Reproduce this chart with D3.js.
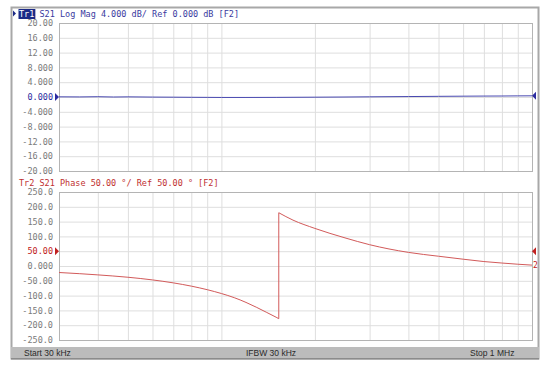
<!DOCTYPE html>
<html>
<head>
<meta charset="utf-8">
<script src="https://cdn.jsdelivr.net/npm/d3@7"></script>
<style>
  body { margin: 0; background: #fff; }
  svg { display: block; }
  .grid line { stroke: #dedede; stroke-width: 1; }
  .grid path { display: none; }
  .ylab text { font-family: "DejaVu Sans Mono", monospace; font-size: 8.5px; fill: #7a7a7a; }
  .hdr { font-family: "DejaVu Sans Mono", monospace; font-size: 8.5px; }
  .status { font-family: "Liberation Sans", Arial, sans-serif; font-size: 8.5px; fill: #2a2a2a; }
</style>
</head>
<body>
<div id="chart"></div>
<script>
// Data
const gridFreqs = [40e3, 50e3, 60e3, 70e3, 80e3, 90e3, 100e3, 200e3, 300e3, 400e3, 500e3, 600e3, 700e3, 800e3, 900e3];

const magTicks = [20, 16, 12, 8, 4, 0, -4, -8, -12, -16, -20];
const magTickLabels = ["20.00", "16.00", "12.00", "8.000", "4.000", "0.000", "-4.000", "-8.000", "-12.00", "-16.00", "-20.00"];
const phaseTicks = [250, 200, 150, 100, 50, 0, -50, -100, -150, -200, -250];
const phaseTickLabels = ["250.0", "200.0", "150.0", "100.0", "50.00", "0.000", "-50.00", "-100.0", "-150.0", "-200.0", "-250.0"];

const magFreqs = [30e3, 35e3, 40e3, 45e3, 50e3, 60e3, 70e3, 80e3, 90e3, 100e3, 120e3, 150e3, 200e3, 250e3, 300e3, 400e3, 500e3, 600e3, 700e3, 800e3, 900e3, 1e6];
const magValues = [0.05, 0.02, 0.08, 0.0, 0.04, -0.02, -0.05, -0.08, -0.1, -0.12, -0.12, -0.1, -0.05, 0.0, 0.05, 0.12, 0.18, 0.22, 0.25, 0.27, 0.3, 0.32];

// phase wraps at ~153 kHz (two points at the same frequency)
const phaseFreqs = [30e3, 35e3, 40e3, 50e3, 60e3, 70e3, 80e3, 90e3, 100e3, 110e3, 120e3, 130e3, 140e3, 150e3, 153e3, 153e3, 170e3, 200e3, 250e3, 300e3, 400e3, 500e3, 600e3, 700e3, 800e3, 900e3, 1e6];
const phaseValues = [-22, -26, -30, -38, -47, -57, -68, -80, -93, -107, -123, -140, -157, -173, -178, 180, 155, 127, 95, 72, 46, 33, 23, 15, 10, 6, 3];

const W = 550, H = 368;
const P1 = { left: 59, top: 23, right: 532, bottom: 171 };
const P2 = { left: 59, top: 192, right: 532, bottom: 340 };

const svg = d3.select("#chart").append("svg").attr("width", W).attr("height", H);

// outer frame
svg.append("rect").attr("x", 11.5).attr("y", 7.5).attr("width", 527).attr("height", 351)
  .attr("fill", "#fff").attr("stroke", "#a8a8a8").attr("stroke-width", 2);

const x = d3.scaleLog().domain([30e3, 1e6]).range([P1.left, P1.right]);

function drawPanel(P, ticks, labels, domain, refIdx, refColor) {
  const y = d3.scaleLinear().domain(domain).range([P.bottom, P.top]);
  const g = svg.append("g");
  const w = P.right - P.left, h = P.bottom - P.top;

  g.append("g").attr("class", "grid").attr("transform", `translate(0,${P.bottom})`)
    .call(d3.axisBottom(x).tickValues(gridFreqs).tickSize(-h).tickFormat(""));
  g.append("g").attr("class", "grid ylab").attr("transform", `translate(${P.left},0)`)
    .call(d3.axisLeft(y).tickValues(ticks).tickSize(-w).tickPadding(6).tickFormat((d, i) => labels[i]))
    .selectAll("text").style("fill", (d, i) => i === refIdx ? refColor : null);

  g.append("rect").attr("x", P.left + 0.5).attr("y", P.top + 0.5).attr("width", w).attr("height", h)
    .attr("fill", "none").attr("stroke", "#b4b4b4");

  // reference markers
  const ry = y(ticks[refIdx]);
  g.append("path").attr("d", `M${P.left - 4},${ry - 4}L${P.left},${ry}L${P.left - 4},${ry + 4}Z`).attr("fill", refColor);
  return y;
}

const yMag = drawPanel(P1, magTicks, magTickLabels, [-20, 20], 5, "#2b2ba0");
const yPh = drawPanel(P2, phaseTicks, phaseTickLabels, [-250, 250], 4, "#c02020");

// traces
const magLine = d3.line().x((d, i) => x(magFreqs[i])).y(d => yMag(d));
svg.append("path").datum(magValues).attr("d", magLine).attr("fill", "none")
  .attr("stroke", "#4848b0").attr("stroke-width", 1);

// split phase at the wrap so each side can be smoothed
const phPts = phaseFreqs.map((f, i) => [f, phaseValues[i]]);
const wrap = phaseFreqs.findIndex((f, i) => i > 0 && f === phaseFreqs[i - 1]);
const segs = [phPts.slice(0, wrap), phPts.slice(wrap - 1, wrap + 1), phPts.slice(wrap)];
const phSmooth = d3.line().x(d => x(d[0])).y(d => yPh(d[1])).curve(d3.curveMonotoneX);
const phStraight = d3.line().x(d => x(d[0])).y(d => yPh(d[1]));
segs.forEach((s, k) => {
  svg.append("path").datum(s).attr("d", k === 1 ? phStraight : phSmooth)
    .attr("fill", "none").attr("stroke", "#d25a5a").attr("stroke-width", 1);
});

// right-side markers
const mEnd = yMag(magValues[magValues.length - 1]);
svg.append("path").attr("d", `M${P1.right},${mEnd}L${P1.right + 4},${mEnd - 4}L${P1.right + 4},${mEnd + 4}Z`).attr("fill", "#2b2ba0");
const r50 = yPh(50);
svg.append("path").attr("d", `M${P2.right},${r50}L${P2.right + 4},${r50 - 4}L${P2.right + 4},${r50 + 4}Z`).attr("fill", "#c02020");
svg.append("text").attr("x", P2.right + 1).attr("y", yPh(phaseValues[phaseValues.length - 1]) + 3)
  .attr("font-family", "DejaVu Sans Mono, monospace").attr("font-size", "8px").attr("fill", "#c02020").text("2");

// headers
function header(yb, tr, rest, color, boxed) {
  const t = svg.append("text").attr("class", "hdr").attr("x", 19).attr("y", yb);
  const s1 = t.append("tspan").text(tr);
  t.append("tspan").text(rest);
  const tw = t.node().getSubStringLength(0, tr.length);
  if (boxed) {
    svg.insert("rect", "text.hdr").attr("x", 18.5).attr("y", yb - 8).attr("width", tw + 1.5).attr("height", 10).attr("fill", "#1c2a86");
    s1.attr("fill", "#fff");
    svg.append("path").attr("d", `M13,${yb - 6.5}L16,${yb - 3.5}L13,${yb - 0.5}Z`).attr("fill", "#1c2a86");
  } else {
    s1.attr("fill", color);
  }
  t.selectAll("tspan").filter((d, i) => i === 1).attr("fill", color);
}
header(17, "Tr1", " S21 Log Mag 4.000 dB/ Ref 0.000 dB [F2]", "#3a3aa0", true);
header(185.5, "Tr2", " S21 Phase 50.00 \u00b0/ Ref 50.00 \u00b0 [F2]", "#c03030", false);

// status bar
svg.append("rect").attr("x", 11).attr("y", 347).attr("width", 528).attr("height", 12).attr("fill", "#bcbcbc");
svg.append("rect").attr("x", 11).attr("y", 358).attr("width", 528).attr("height", 1.5).attr("fill", "#8c8c8c");
svg.append("text").attr("class", "status").attr("x", 24).attr("y", 356).text("Start 30 kHz");
svg.append("text").attr("class", "status").attr("x", 246).attr("y", 356).text("IFBW 30 kHz");
svg.append("text").attr("class", "status").attr("x", 470).attr("y", 356).text("Stop 1 MHz");
</script>
</body>
</html>
